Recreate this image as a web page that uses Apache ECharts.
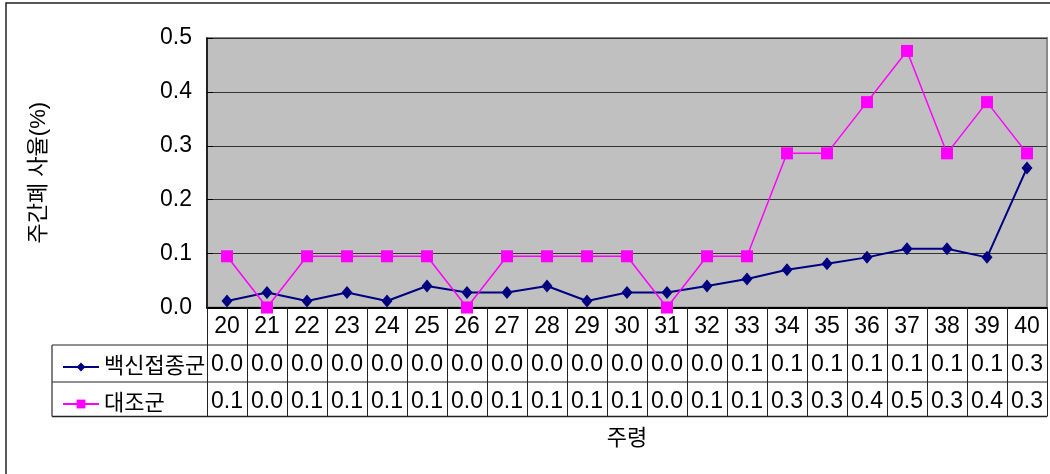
<!DOCTYPE html>
<html>
<head>
<meta charset="utf-8">
<script src="https://cdn.jsdelivr.net/npm/echarts@6/dist/echarts.min.js"></script>
<style>
html,body{margin:0;padding:0;background:#fff;}
#c{width:1050px;height:474px;}
</style>
</head>
<body>
<div id="c"></div>
<script>
// ---- data ----
var categories = ['20','21','22','23','24','25','26','27','28','29','30','31','32','33','34','35','36','37','38','39','40'];
var vaccinated = [0.012,0.028,0.012,0.028,0.012,0.040,0.028,0.028,0.040,0.012,0.028,0.028,0.040,0.053,0.070,0.081,0.093,0.109,0.109,0.093,0.259];
var control    = [0.095,0.000,0.095,0.095,0.095,0.095,0.000,0.095,0.095,0.095,0.095,0.000,0.095,0.095,0.286,0.286,0.381,0.476,0.286,0.381,0.286];
var seriesNames = ['백신접종군','대조군'];
var yTicks = [0.0,0.1,0.2,0.3,0.4,0.5];
var yTitle = '주간폐 사율(%)';
var xTitle = '주령';

// ---- layout ----
var W = 1050, H = 474;
var GL = 207, GR = 3, GT = 38, GB = 474 - 307.5;
var AXIS_Y = 307.5;
var ROW1 = 345, ROW2 = 382, ROW3 = 416.5;
var TABLE_LEFT = 52;
var FONT = "'Liberation Sans','Noto Sans CJK KR',sans-serif";
var FS = 23;

var fmt = function(v){ return Number(v).toFixed(1); };
var vacLabels = vaccinated.map(fmt);
var ctlLabels = control.map(fmt);

var chart = echarts.init(document.getElementById('c'), null, {renderer:'canvas'});
var lineCol = '#222';

var option = {
  backgroundColor: '#ffffff',
  animation: false,
  textStyle: {fontFamily: FONT},
  grid: {
    left: GL, right: GR, top: GT, bottom: GB,
    show: true, backgroundColor: '#C0C0C0', borderColor: '#8a8a8a', borderWidth: 2
  },
  legend: [
    {
      data: [seriesNames[0]], left: 57, top: ROW1 + 6, orient: 'vertical',
      itemWidth: 36, itemHeight: 11, selectedMode: false,
      textStyle: {fontFamily: FONT, fontSize: 22, color: '#000'}
    },
    {
      data: [seriesNames[1]], left: 57, top: ROW2 + 6, orient: 'vertical',
      itemWidth: 36, itemHeight: 11, selectedMode: false,
      textStyle: {fontFamily: FONT, fontSize: 22, color: '#000'}
    }
  ],
  xAxis: [
    {
      type: 'category', data: categories, boundaryGap: true, position: 'bottom',
      name: xTitle, nameLocation: 'middle', nameGap: 120,
      nameTextStyle: {fontFamily: FONT, fontSize: 22, color: '#000'},
      axisLine: {show: true, lineStyle: {color: '#000', width: 2}},
      axisTick: {show: true, interval: 0, length: ROW3 - AXIS_Y, lineStyle: {color: lineCol, width: 1}},
      axisLabel: {interval: 0, margin: 8, fontFamily: FONT, fontSize: FS, color: '#000'},
      splitLine: {show: false}
    },
    {
      type: 'category', data: vacLabels, boundaryGap: true, position: 'bottom', offset: ROW1 - AXIS_Y,
      axisLine: {show: false}, axisTick: {show: false},
      axisLabel: {interval: 0, margin: 8, fontFamily: FONT, fontSize: FS, color: '#000'}
    },
    {
      type: 'category', data: ctlLabels, boundaryGap: true, position: 'bottom', offset: ROW2 - AXIS_Y,
      axisLine: {show: false}, axisTick: {show: false},
      axisLabel: {interval: 0, margin: 8, fontFamily: FONT, fontSize: FS, color: '#000'}
    }
  ],
  yAxis: {
    type: 'value', min: yTicks[0], max: yTicks[yTicks.length-1], interval: 0.1,
    name: yTitle, nameLocation: 'middle', nameGap: 157, nameRotate: 90,
    nameTextStyle: {fontFamily: FONT, fontSize: 22, color: '#000'},
    axisLine: {show: true, lineStyle: {color: '#000', width: 1.5}},
    axisTick: {show: true, inside: true, length: 6, lineStyle: {color: '#000'}},
    axisLabel: {margin: 15, fontFamily: FONT, fontSize: FS, color: '#000', formatter: function(v){return v.toFixed(1);}},
    splitLine: {show: true, lineStyle: {color: '#333', width: 1}}
  },
  series: [
    {
      name: seriesNames[0], type: 'line', data: vaccinated, xAxisIndex: 0,
      symbol: 'diamond', symbolSize: [11, 13],
      itemStyle: {color: '#000080'}, lineStyle: {color: '#000080', width: 2}
    },
    {
      name: seriesNames[1], type: 'line', data: control, xAxisIndex: 0,
      symbol: 'rect', symbolSize: 12,
      itemStyle: {color: '#FF00FF'}, lineStyle: {color: '#FF00FF', width: 1.5}
    }
  ],
  graphic: [
    {type: 'rect', shape: {x: 6, y: 3, width: W + 20, height: H + 20}, style: {fill: null, stroke: '#222', lineWidth: 1.5}, silent: true, z: 100},
    {type: 'line', shape: {x1: GL, y1: ROW1, x2: W - GR, y2: ROW1}, style: {stroke: lineCol, lineWidth: 1}, silent: true},
    {type: 'line', shape: {x1: TABLE_LEFT, y1: ROW1, x2: GL, y2: ROW1}, style: {stroke: lineCol, lineWidth: 1}, silent: true},
    {type: 'line', shape: {x1: TABLE_LEFT, y1: ROW2, x2: W - GR, y2: ROW2}, style: {stroke: lineCol, lineWidth: 1}, silent: true},
    {type: 'line', shape: {x1: TABLE_LEFT, y1: ROW3, x2: W - GR, y2: ROW3}, style: {stroke: lineCol, lineWidth: 1.5}, silent: true},
    {type: 'line', shape: {x1: TABLE_LEFT, y1: ROW1, x2: TABLE_LEFT, y2: ROW3}, style: {stroke: '#555', lineWidth: 1.5}, silent: true}
  ]
};
chart.setOption(option);
</script>
</body>
</html>
